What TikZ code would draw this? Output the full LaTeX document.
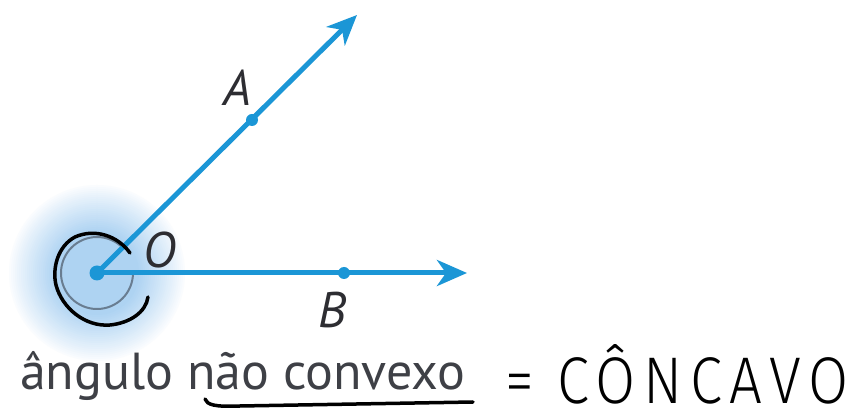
\documentclass[tikz,border=0pt]{standalone}
\usepackage{fontspec}
\setmainfont{PT Sans}
\newfontfamily\handfont{Fira Sans Light}[LetterSpace=13]
\usetikzlibrary{arrows.meta}
\definecolor{raycol}{RGB}{27,150,214}
\definecolor{glowc}{RGB}{174,211,242}
\definecolor{labcol}{RGB}{45,45,50}
\definecolor{txtcol}{RGB}{62,64,70}
\definecolor{arccol}{RGB}{105,125,145}
\begin{document}
\begin{tikzpicture}[x=1pt,y=-1pt,
  ray/.style={draw=raycol, line width=5pt, -{Stealth[length=30pt,width=26pt,inset=9pt]}},
  dotpt/.style={circle, fill=raycol, inner sep=0pt, minimum size=12pt},
  lab/.style={text=labcol, font=\fontsize{50}{50}\selectfont\itshape, inner sep=0pt},
  hand/.style={draw=black, line width=3.5pt, line cap=round, line join=round}]
\useasboundingbox[fill=white] (0,0) rectangle (863,411);
% coordinates
\coordinate (O) at (97,273);
\coordinate (tipA) at (357,15);
\coordinate (tipB) at (467,273);
% soft glow around the vertex
\foreach \i in {0,...,24}{
  \pgfmathsetmacro{\rr}{90-2*\i}
  \pgfmathsetmacro{\pp}{100*(\i/24)^0.9}
  \fill[glowc!\pp!white] (O) circle (\rr);
}
% gray reflex arc (y axis points down: angles are mirrored)
\draw[arccol, line width=2pt] (O) ++(0:36) arc[start angle=0, end angle=315, radius=36];
% rays
\draw[ray] (O) -- (tipA);
\draw[ray] (O) -- (tipB);
\node[dotpt, minimum size=15pt] (Odot) at (O) {};
\node[dotpt] (A) at (252,120) {};
\node[dotpt] (B) at (344,273) {};
% labels
\node[lab] (Alab) at (237,88) {A};
\node[lab] (Blab) at (332,310) {B};
\node[lab] (Olab) at (160,250) {O};
% handwritten loop
\draw[hand] (130,253) .. controls (118,236) and (95,228) .. (75,237)
  .. controls (58,246) and (52,268) .. (56,285)
  .. controls (62,308) and (85,327) .. (110,325)
  .. controls (130,323) and (146,312) .. (148,297);
% bottom text
\node[anchor=base west, inner sep=0pt, text=txtcol, font=\fontsize{52}{52}\selectfont] (cap) at (20,390) {ângulo não convexo};
% handwritten underline
\draw[hand] (205,399) .. controls (207,405) and (215,407) .. (240,406) -- (473,402);
% handwritten answer
\node[anchor=base west, inner sep=0pt, text=black] (ans) at (505,404) {\scalebox{0.88}[1]{\handfont\fontsize{66}{66}\selectfont = CÔNCAVO}};
\end{tikzpicture}
\end{document}
